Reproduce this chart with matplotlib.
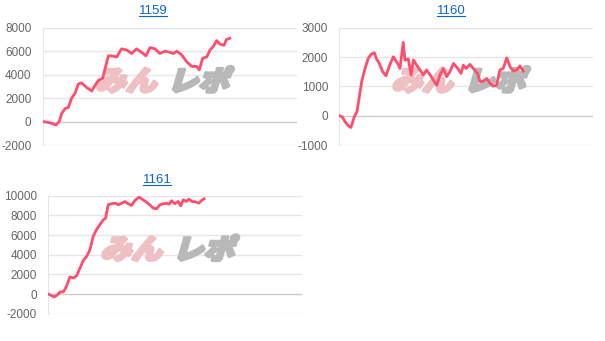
import matplotlib
matplotlib.use("Agg")
import matplotlib.pyplot as plt
from matplotlib.textpath import TextPath
from matplotlib.patches import PathPatch
from matplotlib.font_manager import FontProperties
from matplotlib.transforms import Affine2D
from matplotlib.lines import Line2D

# データ (x は 0-100 の横軸スケール)
x1159 = [0, 1.6, 3.5, 5.2, 6.5, 7.5, 8.8, 10.1, 11.4, 12.7, 14.0, 15.3, 17.3, 19.3,
         20.6, 21.9, 23.6, 25.8, 27.1, 29.1, 31.0, 33.0, 35.0, 36.9, 38.9, 40.6,
         42.2, 44.2, 46.1, 48.1, 50.0, 51.4, 52.7, 54.6, 56.6, 58.6, 60.5, 61.6,
         62.9, 64.5, 65.8, 67.1, 68.4, 69.7, 71.3, 72.3, 73.6]
y1159 = [0, -50, -150, -300, 0, 700, 1100, 1200, 2000, 2400, 3200, 3300, 2900, 2600,
         3100, 3500, 3700, 5600, 5600, 5500, 6200, 6100, 5800, 6200, 5900, 5600,
         6300, 6200, 5800, 6000, 5900, 5800, 6000, 5700, 5100, 4700, 4700, 4400,
         5400, 5500, 6100, 6400, 6900, 6600, 6500, 7000, 7100]

x1160 = [0, 1.2, 2.2, 3.6, 4.6, 5.9, 7.0, 7.8, 8.8, 10.1, 11.4, 12.5, 13.8, 14.7,
         15.8, 17.1, 18.4, 19.7, 21.3, 23.0, 23.9, 25.2, 25.9, 27.2, 28.3, 29.2,
         30.5, 31.8, 33.1, 34.4, 35.8, 37.1, 38.4, 39.7, 41.0, 42.3, 43.6, 45.0,
         46.7, 48.0, 48.9, 50.0, 51.5, 52.8, 54.5, 55.5, 56.8, 58.1, 59.4, 60.7,
         62.0, 63.3, 64.6, 66.0, 67.3, 68.6, 69.9, 71.2, 72.5]
y1160 = [0, -40, -200, -350, -400, -40, 150, 590, 1150, 1600, 1950, 2090, 2150, 1930,
         1780, 1500, 1360, 1690, 2010, 1780, 1610, 2500, 1900, 1930, 1390, 1900,
         1720, 1560, 1390, 1560, 1390, 1210, 1040, 1390, 1610, 1330, 1500, 1780,
         1610, 1440, 1720, 1610, 1750, 1610, 1440, 1160, 1180, 1270, 1100, 1010,
         1040, 1560, 1610, 1970, 1670, 1520, 1560, 1700, 1520]

x1161 = [0, 1.3, 2.4, 3.7, 4.6, 5.9, 7.2, 8.5, 9.9, 11.2, 12.5, 13.8, 15.1, 16.4,
         17.7, 19.0, 20.3, 21.7, 22.6, 23.6, 24.9, 26.3, 27.6, 28.9, 30.2, 31.5,
         32.8, 34.1, 35.8, 37.4, 38.7, 40.0, 41.3, 42.7, 44.0, 45.3, 46.6, 47.6,
         48.6, 49.9, 51.2, 52.2, 53.2, 54.5, 55.4, 56.7, 58.0, 59.3, 60.7, 61.4]
y1161 = [0, -150, -290, -50, 220, 220, 800, 1740, 1640, 1880, 2650, 3430, 3830, 4510,
         5860, 6540, 7050, 7550, 7720, 9080, 9180, 9240, 9080, 9240, 9410, 9180,
         9010, 9510, 9850, 9580, 9340, 9080, 8740, 8670, 9080, 9180, 9240, 9140,
         9480, 9180, 9410, 8970, 9580, 9410, 9650, 9410, 9380, 9240, 9580, 9680]

titles = ["1159", "1160", "1161"]
yticks1159 = [-2000, 0, 2000, 4000, 6000, 8000]
yticks1160 = [-1000, 0, 1000, 2000, 3000]
yticks1161 = [-2000, 0, 2000, 4000, 6000, 8000, 10000]

W, H = 605, 341
fig = plt.figure(figsize=(W / 100, H / 100), dpi=100)
plt.rcParams['font.family'] = ['Liberation Sans', 'DejaVu Sans']

line_col = '#ff4d6b'
jp = FontProperties(family='Noto Sans CJK JP', weight='black')


def px_rect(left, right, top, bottom):
    return [left / W, 1 - bottom / H, (right - left) / W, (bottom - top) / H]


def logo(ax):
    # みんレポ の透かし
    for txt, fx, col in [("みん", 0.205, '#eec0c4'), ("レポ", 0.49, '#b8b8b8')]:
        px, py = ax.transAxes.transform((fx, 0.465))
        tp = TextPath((0, 0), txt, size=29, prop=jp)
        tr = Affine2D().scale(1.06, 0.95).skew_deg(16, 0).translate(px, py)
        ax.add_patch(PathPatch(tp, transform=tr, facecolor=col, edgecolor=col,
                               lw=2.2, joinstyle='round', zorder=2, clip_on=False))


def panel(rect, x, y, yticks, title, tx, ty):
    ax = fig.add_axes(rect)
    ax.set_xlim(0, 100)
    ax.set_ylim(yticks[0], yticks[-1])
    ax.set_yticks(yticks)
    ax.set_yticklabels([str(v) for v in yticks])
    ax.set_xticks([])
    for s in ['top', 'right', 'bottom']:
        ax.spines[s].set_visible(False)
    ax.spines['left'].set_color('#e6e6e6')
    ax.tick_params(axis='y', length=0, pad=8, labelsize=8.5, labelcolor='#666666')
    for v in yticks:
        ax.axhline(v, color='#cccccc' if v == 0 else '#e6e6e6', lw=1, zorder=1)
    logo(ax)
    ax.plot(x, y, color=line_col, lw=2.0, zorder=3, solid_joinstyle='round')
    t = fig.text(tx / W, 1 - ty / H, title, ha='center', va='center',
                 color='#0b66d0', fontsize=9.5)
    # 下線
    fig.canvas.draw()
    bb = t.get_window_extent()
    fig.add_artist(Line2D([bb.x0 / W, bb.x1 / W], [(bb.y0 + 1) / H] * 2,
                          color='#0b66d0', lw=0.8))
    return ax


panel(px_rect(42.7, 297, 27.7, 145), x1159, y1159, yticks1159, titles[0], 153, 11)
panel(px_rect(339.3, 593, 27.7, 145), x1160, y1160, yticks1160, titles[1], 451, 11)
panel(px_rect(48.3, 302, 195.7, 313.8), x1161, y1161, yticks1161, titles[2], 157, 180)

fig.savefig("out.png", dpi=100)
